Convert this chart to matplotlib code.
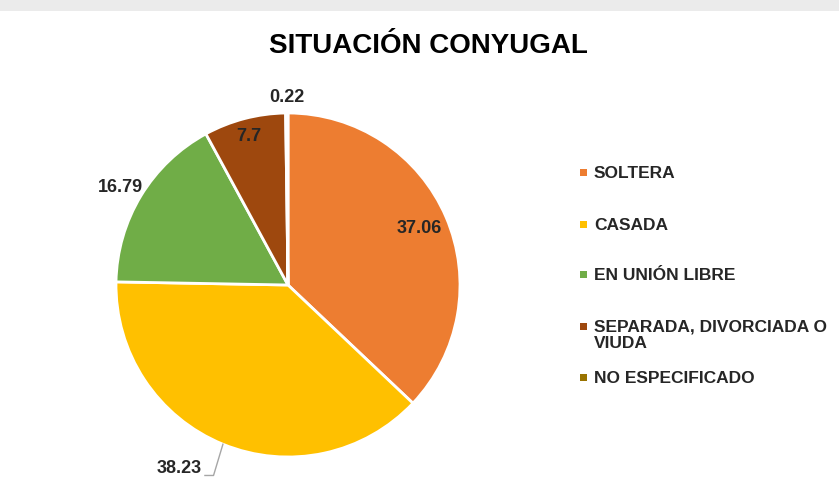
import numpy as np
import matplotlib.pyplot as plt
from matplotlib.patches import Rectangle

categorias = ['SOLTERA', 'CASADA', 'EN UNIÓN LIBRE',
              'SEPARADA, DIVORCIADA O\nVIUDA', 'NO ESPECIFICADO']
porcentajes = [37.06, 38.23, 16.79, 7.7, 0.22]
etiquetas = ['37.06', '38.23', '16.79', '7.7', '0.22']
colores = ['#ED7D31', '#FFC000', '#70AD47', '#9E480E', '#997300']

# posición de cada etiqueta: giro respecto al centro de la porción y distancia (en radios)
giro_etiqueta = [0, -3, 1, 0, 0]
dist_etiqueta = [0.83, 1.18, 1.13, 0.89, 1.09]

W, H = 839, 500
fig = plt.figure(figsize=(W / 100, H / 100), dpi=100)
fig.patch.set_facecolor('white')

# franja gris de fondo arriba
fig.patches.append(Rectangle((0, 1 - 11 / H), 1, 11 / H, transform=fig.transFigure,
                             facecolor='#ebebeb', edgecolor='none', zorder=0))

fig.text(428 / W, 1 - 46 / H, 'SITUACIÓN CONYUGAL', ha='center', va='center',
         fontsize=20, fontweight='bold', color='black',
         family=['Liberation Sans Narrow', 'Liberation Sans', 'DejaVu Sans'])

# pastel: centro (288, 285) px, radio 172 px
cx, cy, r = 288, 285, 172
ax = fig.add_axes([(cx - r) / W, (H - cy - r) / H, 2 * r / W, 2 * r / H])
wedges, _ = ax.pie(porcentajes, colors=colores, startangle=90, counterclock=False,
                   radius=1, wedgeprops=dict(edgecolor='white', linewidth=2))
ax.set_xlim(-1, 1)
ax.set_ylim(-1, 1)
ax.set_aspect('equal')
ax.axis('off')

fuente = ['Liberation Sans', 'DejaVu Sans']
for i, (w, txt) in enumerate(zip(wedges, etiquetas)):
    medio = (w.theta1 + w.theta2) / 2
    ang = np.deg2rad(medio + giro_etiqueta[i])
    d = dist_etiqueta[i]
    x, y = d * np.cos(ang), d * np.sin(ang)
    ha = 'center'
    if i == 1:
        # etiqueta con línea guía desde el borde de la porción
        a0 = np.deg2rad(medio)
        xe, ye = np.cos(a0), np.sin(a0)
        ax.plot([xe, x + 0.07, x + 0.02], [ye, y - 0.04, y - 0.04],
                color='#a6a6a6', lw=1, clip_on=False)
        ha = 'right'
    ax.text(x, y, txt, ha=ha, va='center', fontsize=13,
            fontweight='bold', color='#262626', family=fuente, clip_on=False)

# leyenda
ys = [172, 224, 274, 326, 377]
for cat, col, yy in zip(categorias, colores, ys):
    fig.patches.append(Rectangle((580 / W, 1 - (yy + 3.5) / H), 7 / W, 7 / H,
                                 transform=fig.transFigure, facecolor=col,
                                 edgecolor='none'))
    fig.text(594 / W, 1 - (yy - 6) / H, cat, ha='left', va='top', fontsize=12.5,
             fontweight='bold', color='#262626', family=fuente, linespacing=1.12)

fig.savefig('out.png', dpi=100)
